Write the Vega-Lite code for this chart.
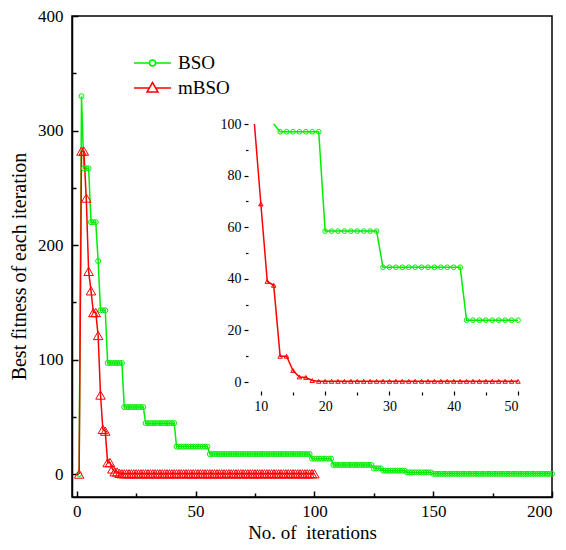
{
  "$schema": "https://vega.github.io/schema/vega-lite/v6.json",
  "width": 480,
  "height": 481,
  "autosize": {"type": "none"},
  "padding": {"left": 72, "top": 16, "right": 14, "bottom": 53},
  "background": "white",
  "config": {
    "font": "Liberation Serif",
    "view": {"stroke": "black", "strokeWidth": 1.5},
    "style": {"guide-label": {"font": "Liberation Serif"}, "guide-title": {"font": "Liberation Serif"}},
    "axis": {"grid": false, "domainColor": "black", "tickColor": "black", "labelColor": "black", "titleColor": "black", "labelFont": "Liberation Serif", "titleFont": "Liberation Serif", "titleFontWeight": "normal"},
    "legend": {"labelFont": "Liberation Serif"}
  },
  "datasets": {
    "fit": [
      {"iter":1,"alg":"BSO","val":0},{"iter":2,"alg":"BSO","val":330},{"iter":3,"alg":"BSO","val":267},{"iter":4,"alg":"BSO","val":267},{"iter":5,"alg":"BSO","val":267},
      {"iter":6,"alg":"BSO","val":220},{"iter":7,"alg":"BSO","val":220},{"iter":8,"alg":"BSO","val":220},{"iter":9,"alg":"BSO","val":186},{"iter":10,"alg":"BSO","val":143},
      {"iter":11,"alg":"BSO","val":143},{"iter":12,"alg":"BSO","val":143},{"iter":13,"alg":"BSO","val":97},{"iter":14,"alg":"BSO","val":97},{"iter":15,"alg":"BSO","val":97},
      {"iter":16,"alg":"BSO","val":97},{"iter":17,"alg":"BSO","val":97},{"iter":18,"alg":"BSO","val":97},{"iter":19,"alg":"BSO","val":97},{"iter":20,"alg":"BSO","val":58.5},
      {"iter":21,"alg":"BSO","val":58.5},{"iter":22,"alg":"BSO","val":58.5},{"iter":23,"alg":"BSO","val":58.5},{"iter":24,"alg":"BSO","val":58.5},{"iter":25,"alg":"BSO","val":58.5},
      {"iter":26,"alg":"BSO","val":58.5},{"iter":27,"alg":"BSO","val":58.5},{"iter":28,"alg":"BSO","val":58.5},{"iter":29,"alg":"BSO","val":44.5},{"iter":30,"alg":"BSO","val":44.5},
      {"iter":31,"alg":"BSO","val":44.5},{"iter":32,"alg":"BSO","val":44.5},{"iter":33,"alg":"BSO","val":44.5},{"iter":34,"alg":"BSO","val":44.5},{"iter":35,"alg":"BSO","val":44.5},
      {"iter":36,"alg":"BSO","val":44.5},{"iter":37,"alg":"BSO","val":44.5},{"iter":38,"alg":"BSO","val":44.5},{"iter":39,"alg":"BSO","val":44.5},{"iter":40,"alg":"BSO","val":44.5},
      {"iter":41,"alg":"BSO","val":44.5},{"iter":42,"alg":"BSO","val":24},{"iter":43,"alg":"BSO","val":24},{"iter":44,"alg":"BSO","val":24},{"iter":45,"alg":"BSO","val":24},
      {"iter":46,"alg":"BSO","val":24},{"iter":47,"alg":"BSO","val":24},{"iter":48,"alg":"BSO","val":24},{"iter":49,"alg":"BSO","val":24},{"iter":50,"alg":"BSO","val":24},
      {"iter":51,"alg":"BSO","val":24},{"iter":52,"alg":"BSO","val":24},{"iter":53,"alg":"BSO","val":24},{"iter":54,"alg":"BSO","val":24},{"iter":55,"alg":"BSO","val":24},
      {"iter":56,"alg":"BSO","val":17.5},{"iter":57,"alg":"BSO","val":17.5},{"iter":58,"alg":"BSO","val":17.5},{"iter":59,"alg":"BSO","val":17.5},{"iter":60,"alg":"BSO","val":17.5},
      {"iter":61,"alg":"BSO","val":17.5},{"iter":62,"alg":"BSO","val":17.5},{"iter":63,"alg":"BSO","val":17.5},{"iter":64,"alg":"BSO","val":17.5},{"iter":65,"alg":"BSO","val":17.5},
      {"iter":66,"alg":"BSO","val":17.5},{"iter":67,"alg":"BSO","val":17.5},{"iter":68,"alg":"BSO","val":17.5},{"iter":69,"alg":"BSO","val":17.5},{"iter":70,"alg":"BSO","val":17.5},
      {"iter":71,"alg":"BSO","val":17.5},{"iter":72,"alg":"BSO","val":17.5},{"iter":73,"alg":"BSO","val":17.5},{"iter":74,"alg":"BSO","val":17.5},{"iter":75,"alg":"BSO","val":17.5},
      {"iter":76,"alg":"BSO","val":17.5},{"iter":77,"alg":"BSO","val":17.5},{"iter":78,"alg":"BSO","val":17.5},{"iter":79,"alg":"BSO","val":17.5},{"iter":80,"alg":"BSO","val":17.5},
      {"iter":81,"alg":"BSO","val":17.5},{"iter":82,"alg":"BSO","val":17.5},{"iter":83,"alg":"BSO","val":17.5},{"iter":84,"alg":"BSO","val":17.5},{"iter":85,"alg":"BSO","val":17.5},
      {"iter":86,"alg":"BSO","val":17.5},{"iter":87,"alg":"BSO","val":17.5},{"iter":88,"alg":"BSO","val":17.5},{"iter":89,"alg":"BSO","val":17.5},{"iter":90,"alg":"BSO","val":17.5},
      {"iter":91,"alg":"BSO","val":17.5},{"iter":92,"alg":"BSO","val":17.5},{"iter":93,"alg":"BSO","val":17.5},{"iter":94,"alg":"BSO","val":17.5},{"iter":95,"alg":"BSO","val":17.5},
      {"iter":96,"alg":"BSO","val":17.5},{"iter":97,"alg":"BSO","val":17.5},{"iter":98,"alg":"BSO","val":17.5},{"iter":99,"alg":"BSO","val":13.5},{"iter":100,"alg":"BSO","val":13.5},
      {"iter":101,"alg":"BSO","val":13.5},{"iter":102,"alg":"BSO","val":13.5},{"iter":103,"alg":"BSO","val":13.5},{"iter":104,"alg":"BSO","val":13.5},{"iter":105,"alg":"BSO","val":13.5},
      {"iter":106,"alg":"BSO","val":13.5},{"iter":107,"alg":"BSO","val":13.5},{"iter":108,"alg":"BSO","val":8},{"iter":109,"alg":"BSO","val":8},{"iter":110,"alg":"BSO","val":8},
      {"iter":111,"alg":"BSO","val":8},{"iter":112,"alg":"BSO","val":8},{"iter":113,"alg":"BSO","val":8},{"iter":114,"alg":"BSO","val":8},{"iter":115,"alg":"BSO","val":8},
      {"iter":116,"alg":"BSO","val":8},{"iter":117,"alg":"BSO","val":8},{"iter":118,"alg":"BSO","val":8},{"iter":119,"alg":"BSO","val":8},{"iter":120,"alg":"BSO","val":8},
      {"iter":121,"alg":"BSO","val":8},{"iter":122,"alg":"BSO","val":8},{"iter":123,"alg":"BSO","val":8},{"iter":124,"alg":"BSO","val":8},{"iter":125,"alg":"BSO","val":5},
      {"iter":126,"alg":"BSO","val":5},{"iter":127,"alg":"BSO","val":5},{"iter":128,"alg":"BSO","val":5},{"iter":129,"alg":"BSO","val":3},{"iter":130,"alg":"BSO","val":3},
      {"iter":131,"alg":"BSO","val":3},{"iter":132,"alg":"BSO","val":3},{"iter":133,"alg":"BSO","val":3},{"iter":134,"alg":"BSO","val":3},{"iter":135,"alg":"BSO","val":3},
      {"iter":136,"alg":"BSO","val":3},{"iter":137,"alg":"BSO","val":3},{"iter":138,"alg":"BSO","val":3},{"iter":139,"alg":"BSO","val":1.5},{"iter":140,"alg":"BSO","val":1.5},
      {"iter":141,"alg":"BSO","val":1.5},{"iter":142,"alg":"BSO","val":1.5},{"iter":143,"alg":"BSO","val":1.5},{"iter":144,"alg":"BSO","val":1.5},{"iter":145,"alg":"BSO","val":1.5},
      {"iter":146,"alg":"BSO","val":1.5},{"iter":147,"alg":"BSO","val":1.5},{"iter":148,"alg":"BSO","val":1.5},{"iter":149,"alg":"BSO","val":1.5},{"iter":150,"alg":"BSO","val":0.2},
      {"iter":151,"alg":"BSO","val":0.2},{"iter":152,"alg":"BSO","val":0.2},{"iter":153,"alg":"BSO","val":0.2},{"iter":154,"alg":"BSO","val":0.2},{"iter":155,"alg":"BSO","val":0.2},
      {"iter":156,"alg":"BSO","val":0.2},{"iter":157,"alg":"BSO","val":0.2},{"iter":158,"alg":"BSO","val":0.2},{"iter":159,"alg":"BSO","val":0.2},{"iter":160,"alg":"BSO","val":0.2},
      {"iter":161,"alg":"BSO","val":0.2},{"iter":162,"alg":"BSO","val":0.2},{"iter":163,"alg":"BSO","val":0.2},{"iter":164,"alg":"BSO","val":0.2},{"iter":165,"alg":"BSO","val":0.2},
      {"iter":166,"alg":"BSO","val":0.2},{"iter":167,"alg":"BSO","val":0.2},{"iter":168,"alg":"BSO","val":0.2},{"iter":169,"alg":"BSO","val":0.2},{"iter":170,"alg":"BSO","val":0.2},
      {"iter":171,"alg":"BSO","val":0.2},{"iter":172,"alg":"BSO","val":0.2},{"iter":173,"alg":"BSO","val":0.2},{"iter":174,"alg":"BSO","val":0.2},{"iter":175,"alg":"BSO","val":0.2},
      {"iter":176,"alg":"BSO","val":0.2},{"iter":177,"alg":"BSO","val":0.2},{"iter":178,"alg":"BSO","val":0.2},{"iter":179,"alg":"BSO","val":0.2},{"iter":180,"alg":"BSO","val":0.2},
      {"iter":181,"alg":"BSO","val":0.2},{"iter":182,"alg":"BSO","val":0.2},{"iter":183,"alg":"BSO","val":0.2},{"iter":184,"alg":"BSO","val":0.2},{"iter":185,"alg":"BSO","val":0.2},
      {"iter":186,"alg":"BSO","val":0.2},{"iter":187,"alg":"BSO","val":0.2},{"iter":188,"alg":"BSO","val":0.2},{"iter":189,"alg":"BSO","val":0.2},{"iter":190,"alg":"BSO","val":0.2},
      {"iter":191,"alg":"BSO","val":0.2},{"iter":192,"alg":"BSO","val":0.2},{"iter":193,"alg":"BSO","val":0.2},{"iter":194,"alg":"BSO","val":0.2},{"iter":195,"alg":"BSO","val":0.2},
      {"iter":196,"alg":"BSO","val":0.2},{"iter":197,"alg":"BSO","val":0.2},{"iter":198,"alg":"BSO","val":0.2},{"iter":199,"alg":"BSO","val":0.2},{"iter":200,"alg":"BSO","val":0.2},
      {"iter":1,"alg":"mBSO","val":0},{"iter":2,"alg":"mBSO","val":282},{"iter":3,"alg":"mBSO","val":282},{"iter":4,"alg":"mBSO","val":241},{"iter":5,"alg":"mBSO","val":177},
      {"iter":6,"alg":"mBSO","val":160},{"iter":7,"alg":"mBSO","val":141},{"iter":8,"alg":"mBSO","val":141},{"iter":9,"alg":"mBSO","val":121},{"iter":10,"alg":"mBSO","val":69},
      {"iter":11,"alg":"mBSO","val":39},{"iter":12,"alg":"mBSO","val":37.5},{"iter":13,"alg":"mBSO","val":10},{"iter":14,"alg":"mBSO","val":10},{"iter":15,"alg":"mBSO","val":4.5},
      {"iter":16,"alg":"mBSO","val":2},{"iter":17,"alg":"mBSO","val":1.8},{"iter":18,"alg":"mBSO","val":0.6},{"iter":19,"alg":"mBSO","val":0.3},{"iter":20,"alg":"mBSO","val":0.3},
      {"iter":21,"alg":"mBSO","val":0.3},{"iter":22,"alg":"mBSO","val":0.3},{"iter":23,"alg":"mBSO","val":0.3},{"iter":24,"alg":"mBSO","val":0.3},{"iter":25,"alg":"mBSO","val":0.3},
      {"iter":26,"alg":"mBSO","val":0.3},{"iter":27,"alg":"mBSO","val":0.3},{"iter":28,"alg":"mBSO","val":0.3},{"iter":29,"alg":"mBSO","val":0.3},{"iter":30,"alg":"mBSO","val":0.3},
      {"iter":31,"alg":"mBSO","val":0.3},{"iter":32,"alg":"mBSO","val":0.3},{"iter":33,"alg":"mBSO","val":0.3},{"iter":34,"alg":"mBSO","val":0.3},{"iter":35,"alg":"mBSO","val":0.3},
      {"iter":36,"alg":"mBSO","val":0.3},{"iter":37,"alg":"mBSO","val":0.3},{"iter":38,"alg":"mBSO","val":0.3},{"iter":39,"alg":"mBSO","val":0.3},{"iter":40,"alg":"mBSO","val":0.3},
      {"iter":41,"alg":"mBSO","val":0.3},{"iter":42,"alg":"mBSO","val":0.3},{"iter":43,"alg":"mBSO","val":0.3},{"iter":44,"alg":"mBSO","val":0.3},{"iter":45,"alg":"mBSO","val":0.3},
      {"iter":46,"alg":"mBSO","val":0.3},{"iter":47,"alg":"mBSO","val":0.3},{"iter":48,"alg":"mBSO","val":0.3},{"iter":49,"alg":"mBSO","val":0.3},{"iter":50,"alg":"mBSO","val":0.3},
      {"iter":51,"alg":"mBSO","val":0.3},{"iter":52,"alg":"mBSO","val":0.3},{"iter":53,"alg":"mBSO","val":0.3},{"iter":54,"alg":"mBSO","val":0.3},{"iter":55,"alg":"mBSO","val":0.3},
      {"iter":56,"alg":"mBSO","val":0.3},{"iter":57,"alg":"mBSO","val":0.3},{"iter":58,"alg":"mBSO","val":0.3},{"iter":59,"alg":"mBSO","val":0.3},{"iter":60,"alg":"mBSO","val":0.3},
      {"iter":61,"alg":"mBSO","val":0.3},{"iter":62,"alg":"mBSO","val":0.3},{"iter":63,"alg":"mBSO","val":0.3},{"iter":64,"alg":"mBSO","val":0.3},{"iter":65,"alg":"mBSO","val":0.3},
      {"iter":66,"alg":"mBSO","val":0.3},{"iter":67,"alg":"mBSO","val":0.3},{"iter":68,"alg":"mBSO","val":0.3},{"iter":69,"alg":"mBSO","val":0.3},{"iter":70,"alg":"mBSO","val":0.3},
      {"iter":71,"alg":"mBSO","val":0.3},{"iter":72,"alg":"mBSO","val":0.3},{"iter":73,"alg":"mBSO","val":0.3},{"iter":74,"alg":"mBSO","val":0.3},{"iter":75,"alg":"mBSO","val":0.3},
      {"iter":76,"alg":"mBSO","val":0.3},{"iter":77,"alg":"mBSO","val":0.3},{"iter":78,"alg":"mBSO","val":0.3},{"iter":79,"alg":"mBSO","val":0.3},{"iter":80,"alg":"mBSO","val":0.3},
      {"iter":81,"alg":"mBSO","val":0.3},{"iter":82,"alg":"mBSO","val":0.3},{"iter":83,"alg":"mBSO","val":0.3},{"iter":84,"alg":"mBSO","val":0.3},{"iter":85,"alg":"mBSO","val":0.3},
      {"iter":86,"alg":"mBSO","val":0.3},{"iter":87,"alg":"mBSO","val":0.3},{"iter":88,"alg":"mBSO","val":0.3},{"iter":89,"alg":"mBSO","val":0.3},{"iter":90,"alg":"mBSO","val":0.3},
      {"iter":91,"alg":"mBSO","val":0.3},{"iter":92,"alg":"mBSO","val":0.3},{"iter":93,"alg":"mBSO","val":0.3},{"iter":94,"alg":"mBSO","val":0.3},{"iter":95,"alg":"mBSO","val":0.3},
      {"iter":96,"alg":"mBSO","val":0.3},{"iter":97,"alg":"mBSO","val":0.3},{"iter":98,"alg":"mBSO","val":0.3},{"iter":99,"alg":"mBSO","val":0.3},{"iter":100,"alg":"mBSO","val":0.3}
    ]
  },
  "data": {"name": "fit"},
  "layer": [
    {
      "encoding": {
        "x": {"field": "iter", "type": "quantitative",
          "scale": {"domain": [-2, 200], "nice": false, "zero": false},
          "axis": {"title": "No. of\u00a0 iterations", "titleFontSize": 19, "titlePadding": 4, "titleFont": "Liberation Serif",
            "values": [0, 25, 50, 75, 100, 125, 150, 175, 200],
            "labelExpr": "datum.value % 50 === 0 ? datum.label : ''",
            "tickSize": {"condition": {"test": "datum.value % 50 === 0", "value": -6}, "value": -4},
            "labelFont": "Liberation Serif", "labelFontSize": 17, "labelPadding": 12, "domainWidth": 1.5, "tickWidth": 1.5}},
        "y": {"field": "val", "type": "quantitative",
          "scale": {"domain": [-20, 400], "nice": false, "zero": false},
          "axis": {"title": "Best fitness of each iteration", "titleFontSize": 20, "titlePadding": 8, "titleFont": "Liberation Serif", "titleY": 250,
            "values": [0, 50, 100, 150, 200, 250, 300, 350, 400],
            "labelExpr": "datum.value % 100 === 0 ? datum.label : ''",
            "tickSize": {"condition": {"test": "datum.value % 100 === 0", "value": -6}, "value": -4},
            "labelFont": "Liberation Serif", "labelFontSize": 17, "labelPadding": 15, "domainWidth": 1.5, "tickWidth": 1.5}}
      },
      "layer": [
        {
          "mark": {"type": "line", "strokeWidth": 1.5},
          "encoding": {
            "color": {"field": "alg", "type": "nominal",
              "scale": {"domain": ["BSO", "mBSO"], "range": ["#00ee00", "#ff0000"]},
              "legend": {"title": null, "orient": "none", "legendX": 78, "legendY": 36, "padding": 0,
                "labelFontSize": 19, "labelFont": "Liberation Serif", "labelColor": "black", "labelOffset": 6,
                "symbolSize": 400, "rowPadding": 4,
                "encode": {"symbols": {"update": {
                  "shape": {"signal": "datum.value === 'BSO' ? 'M-2.7,0H-1.15M-0.55,0H1M-0.55,0A0.3,0.3 0 1,1 -1.15,0A0.3,0.3 0 1,1 -0.55,0' : 'M-2.7,0H-1.17M-0.53,0H1M-0.85,-0.55L-0.3,0.4L-1.4,0.4Z'"},
                  "fill": {"value": "transparent"},
                  "strokeWidth": {"value": 1.5}}},
                  "labels": {"update": {"font": {"value": "Liberation Serif"}}}}}}
          }
        },
        {
          "mark": {"type": "point", "filled": false, "strokeWidth": 1, "opacity": 1},
          "encoding": {
            "color": {"field": "alg", "type": "nominal"},
            "shape": {"condition": {"test": "datum.alg === 'BSO'", "value": "circle"}, "value": "triangle-up"},
            "size": {"condition": {"test": "datum.alg === 'BSO'", "value": 25}, "value": 90}
          }
        },
        {
          "data": {"values": [{}]},
          "mark": {"type": "rect", "filled": false, "stroke": "black", "strokeWidth": 1.5, "strokeDash": [6, 4]},
          "encoding": {
            "x": {"datum": 5.7, "type": "quantitative"}, "x2": {"datum": 50},
            "y": {"datum": -12, "type": "quantitative"}, "y2": {"datum": 64}
          }
        },
        {
          "data": {"values": [{}]},
          "mark": {"type": "rule", "stroke": "#333333", "strokeWidth": 1, "strokeDash": [5, 3]},
          "encoding": {
            "x": {"datum": 50, "type": "quantitative"}, "x2": {"datum": 72},
            "y": {"datum": 24, "type": "quantitative"}, "y2": {"datum": 69}
          }
        },
        {
          "data": {"values": [{}]},
          "mark": {"type": "point", "filled": false, "stroke": "#333333", "strokeWidth": 1, "size": 100, "opacity": 1,
            "shape": "M0,0L1,-0.25M0,0L0.25,-1"},
          "encoding": {
            "x": {"datum": 50, "type": "quantitative"},
            "y": {"datum": 24, "type": "quantitative"}
          }
        }
      ]
    },
    {
      "encoding": {
        "x": {"field": "iter", "type": "quantitative",
          "scale": {"domain": [8, 50], "nice": false, "zero": false, "range": [176, 446]},
          "axis": {"orient": "bottom", "offset": -102, "title": null, "domain": false,
            "values": [10, 15, 20, 25, 30, 35, 40, 45, 50],
            "labelExpr": "datum.value % 10 === 0 ? datum.label : ''",
            "tickSize": {"condition": {"test": "datum.value % 10 === 0", "value": -4}, "value": -3},
            "labelFont": "Liberation Serif", "labelFontSize": 14, "labelPadding": 8, "tickWidth": 1.2}},
        "y": {"field": "val", "type": "quantitative",
          "scale": {"domain": [-5, 100], "nice": false, "zero": false, "range": [379, 108], "clamp": true},
          "axis": {"orient": "left", "offset": -176, "title": null, "domain": false,
            "values": [0, 10, 20, 30, 40, 50, 60, 70, 80, 90, 100],
            "labelExpr": "datum.value % 20 === 0 ? datum.label : ''",
            "tickSize": {"condition": {"test": "datum.value % 20 === 0", "value": 4}, "value": 2.5},
            "labelFont": "Liberation Serif", "labelFontSize": 14, "labelPadding": 3, "tickWidth": 1.2}}
      },
      "layer": [
        {
          "data": {"values": [{}]},
          "mark": {"type": "rect", "filled": false, "stroke": "black", "strokeWidth": 1.5},
          "encoding": {
            "x": {"datum": 8, "type": "quantitative"}, "x2": {"datum": 50},
            "y": {"datum": -5, "type": "quantitative"}, "y2": {"datum": 100}
          }
        },
        {
          "transform": [{"filter": "datum.iter <= 50 && ((datum.alg === 'BSO' && datum.iter >= 12) || (datum.alg === 'mBSO' && datum.iter >= 9))"}],
          "mark": {"type": "line", "strokeWidth": 1.5},
          "encoding": {
            "detail": {"field": "alg", "type": "nominal"},
            "color": {"condition": {"test": "datum.alg === 'BSO'", "value": "#00ee00"}, "value": "#ff0000"}
          }
        },
        {
          "transform": [{"filter": "datum.iter <= 50 && datum.iter >= 8 && datum.val <= 100"}],
          "mark": {"type": "point", "filled": false, "strokeWidth": 1, "opacity": 1},
          "encoding": {
            "color": {"condition": {"test": "datum.alg === 'BSO'", "value": "#00ee00"}, "value": "#ff0000"},
            "shape": {"condition": {"test": "datum.alg === 'BSO'", "value": "circle"}, "value": "triangle-up"},
            "size": {"condition": {"test": "datum.alg === 'BSO'", "value": 22}, "value": 20}
          }
        }
      ]
    }
  ],
  "resolve": {"scale": {"x": "independent", "y": "independent"}}
}
